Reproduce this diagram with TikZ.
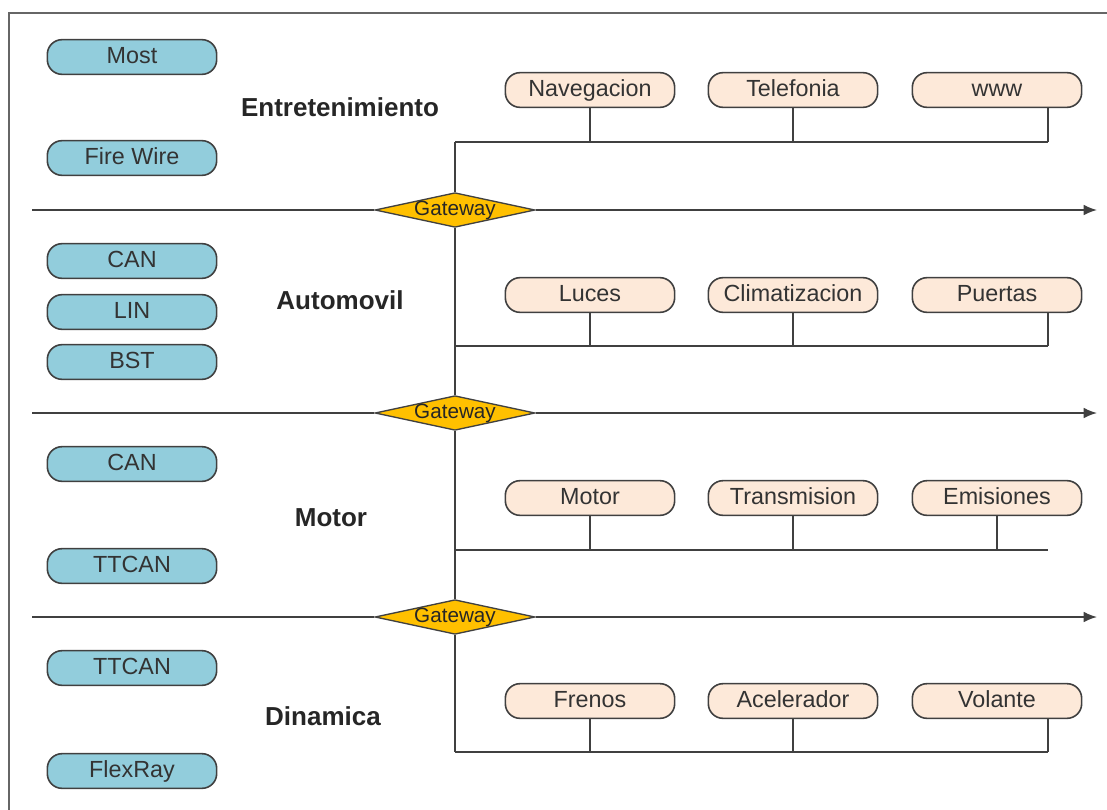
\documentclass[tikz,border=0pt]{standalone}
\usepackage{fontspec}
\setmainfont{Liberation Sans}
\usetikzlibrary{shapes.geometric,arrows.meta}
\definecolor{busblue}{HTML}{92CDDC}
\definecolor{ecupeach}{HTML}{FDE9D9}
\definecolor{gwgold}{HTML}{FFC000}
\definecolor{edgegray}{HTML}{404040}

\begin{document}
\begin{tikzpicture}[x=0.75pt,y=-0.75pt,
  busbox/.style={draw=edgegray, line width=1.2pt, fill=busblue, rounded corners=11pt,
    minimum width=127pt, minimum height=26pt, inner sep=0pt,
    text height=12.5pt, text depth=3.5pt,
    font=\fontsize{17.5}{20}\selectfont, text=black!80},
  ecubox/.style={busbox, fill=ecupeach},
  gateway/.style={diamond, draw=edgegray, line width=1pt, fill=gwgold,
    minimum width=120pt, minimum height=26pt, inner sep=0pt},
  zone/.style={font=\fontsize{19.5}{22}\selectfont\bfseries, text=black!85},
  wire/.style={draw=edgegray, line width=1.2pt}]

\useasboundingbox (0,0) rectangle (1107,810);
\draw[edgegray!80, line width=2pt] (9,815) -- (9,13) -- (1112,13);

% busses of each domain
\foreach \name/\txt/\y in {most/Most/57, fw/Fire Wire/158, can1/CAN/261, lin/LIN/312,
    bst/BST/362, can2/CAN/464, tt1/TTCAN/566, tt2/TTCAN/668, fr/FlexRay/771}
  \node[busbox] (\name) at (132,\y) {\txt};

\node[zone] (ent) at (340,107) {Entretenimiento};
\node[zone] (aut) at (340,300) {Automovil};
\node[zone] (mtr) at (331,518) {Motor};
\node[zone] (din) at (323,716) {Dinamica};

% gateways on the backbone
\foreach \i/\y in {1/210,2/413,3/617} {
  \node[gateway, label={[font=\fontsize{15.5}{15}\selectfont, text=black!85]center:Gateway}] (gw\i) at (455,\y) {};
  \coordinate (in\i) at (32,\y);
  \coordinate (out\i) at (1097,\y);
  \draw[wire] (in\i) -- (gw\i.west);
  \draw[wire, -{Latex[length=10pt,width=8pt]}] (gw\i.east) -- (out\i);
}

% ECUs
\foreach \name/\txt/\x/\y in {nav/Navegacion/590/90, tel/Telefonia/793/90, www/www/997/90,
    luc/Luces/590/295, cli/Climatizacion/793/295, pue/Puertas/997/295,
    mot/Motor/590/498, tra/Transmision/793/498, emi/Emisiones/997/498,
    fre/Frenos/590/701, ace/Acelerador/793/701, vol/Volante/997/701}
  \node[ecubox] (\name) at (\x,\y) {\txt};

\foreach \i/\y in {1/142,2/346,3/550,4/752} {
  \coordinate (bus\i) at (455,\y);
  \coordinate (end\i) at (1048,\y);
  \draw[wire] (bus\i) -- (end\i);
}
\foreach \name/\i in {nav/1,tel/1,luc/2,cli/2,mot/3,tra/3,emi/3,fre/4,ace/4}
  \draw[wire] (\name.south) -- (\name.south |- bus\i);
\foreach \name/\i in {www/1,pue/2,vol/4}
  \draw[wire] (\name.south -| end\i) -- (end\i);

\draw[wire] (gw1.north) -- (bus1);
\draw[wire] (gw1.south) -- (gw2.north);
\draw[wire] (gw2.south) -- (gw3.north);
\draw[wire] (gw3.south) -- (bus4);

\end{tikzpicture}
\end{document}
